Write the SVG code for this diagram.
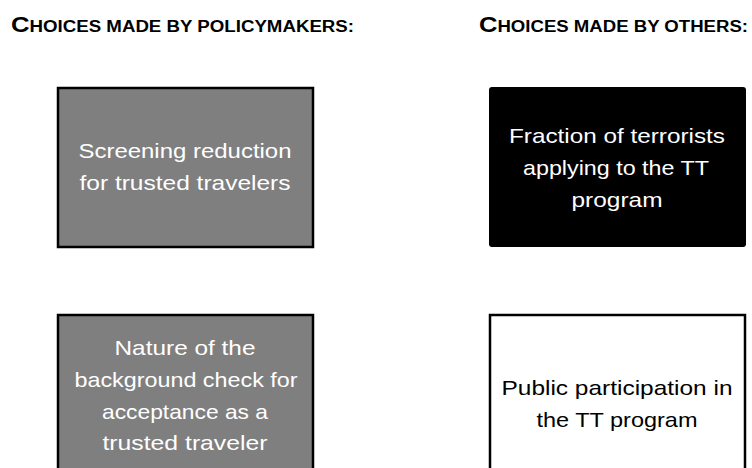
<svg xmlns="http://www.w3.org/2000/svg" width="752" height="468" viewBox="0 0 752 468">
<style>
.hdr{font-family:"Liberation Sans",Arial,sans-serif;font-weight:bold;fill:#000;}
.big{font-size:22px;}
.sm{font-size:16px;}
.box{stroke:#000;stroke-width:2.5;}
.gray{fill:#7f7f7f;}
.blk{fill:#000;}
.wht{fill:#fff;}
.t{font-family:"Liberation Sans",Arial,sans-serif;font-size:21px;text-anchor:middle;}
.tw{fill:#fff;}
.tb{fill:#000;}
</style>
<rect width="752" height="468" fill="#fff"/>
<g id="headers">
<text class="hdr" x="11" y="32" textLength="343" lengthAdjust="spacingAndGlyphs"><tspan class="big">C</tspan><tspan class="sm">HOICES MADE  BY POLICYMAKERS:</tspan></text>
<text class="hdr" x="479" y="32" textLength="269" lengthAdjust="spacingAndGlyphs"><tspan class="big">C</tspan><tspan class="sm">HOICES MADE  BY OTHERS:</tspan></text>
</g>
<g id="node-screening">
<rect class="box gray" x="58" y="88" width="255" height="159"/>
<text class="t tw" x="185" y="158" textLength="213" lengthAdjust="spacingAndGlyphs">Screening reduction</text>
<text class="t tw" x="185" y="190" textLength="211" lengthAdjust="spacingAndGlyphs">for trusted travelers</text>
</g>
<g id="node-terrorists">
<rect class="blk" x="489" y="87" width="257" height="160" rx="3"/>
<text class="t tw" x="617" y="143" textLength="216" lengthAdjust="spacingAndGlyphs">Fraction of terrorists</text>
<text class="t tw" x="616" y="175" textLength="186" lengthAdjust="spacingAndGlyphs">applying to the TT</text>
<text class="t tw" x="617" y="207" textLength="91" lengthAdjust="spacingAndGlyphs">program</text>
</g>
<g id="node-background">
<rect class="box gray" x="58" y="315" width="255" height="175"/>
<text class="t tw" x="185" y="355" textLength="141" lengthAdjust="spacingAndGlyphs">Nature of the</text>
<text class="t tw" x="186" y="387" textLength="223" lengthAdjust="spacingAndGlyphs">background check for</text>
<text class="t tw" x="185" y="419" textLength="166" lengthAdjust="spacingAndGlyphs">acceptance as a</text>
<text class="t tw" x="185" y="450" textLength="165" lengthAdjust="spacingAndGlyphs">trusted traveler</text>
</g>
<g id="node-public">
<rect class="box wht" x="490" y="315" width="255" height="175"/>
<text class="t tb" x="617" y="395" textLength="231" lengthAdjust="spacingAndGlyphs">Public participation in</text>
<text class="t tb" x="617" y="427" textLength="161" lengthAdjust="spacingAndGlyphs">the TT program</text>
</g>
<g id="connectors"></g>
</svg>
